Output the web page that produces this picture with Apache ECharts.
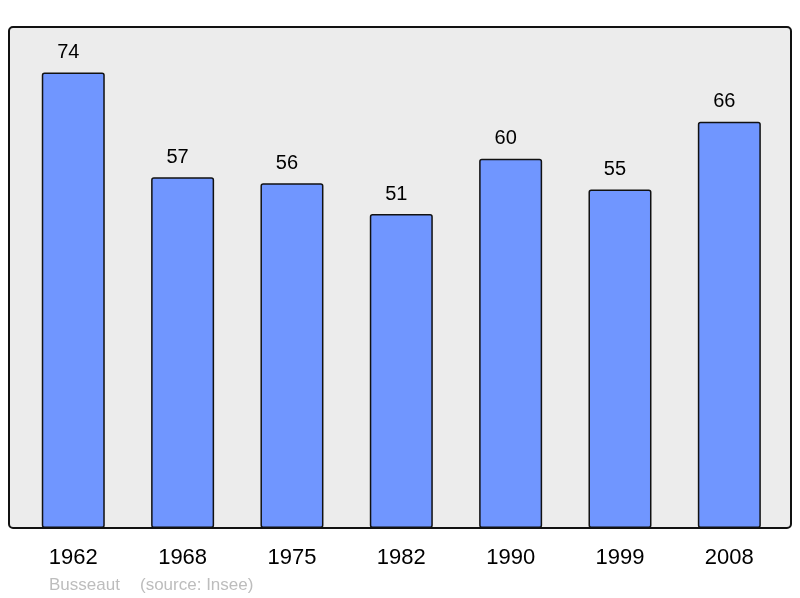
<!DOCTYPE html>
<html>
<head>
<meta charset="utf-8">
<script src="https://cdn.jsdelivr.net/npm/echarts@6/dist/echarts.min.js"></script>
<style>html,body{margin:0;padding:0;background:#fff}#c{width:800px;height:598px}</style>
</head>
<body>
<div id="c"></div>
<script>
var years = ['1962', '1968', '1975', '1982', '1990', '1999', '2008'];
var population = [74, 57, 56, 51, 60, 55, 66];
var placeName = 'Busseaut';
var sourceText = '(source: Insee)';

var chart = echarts.init(document.getElementById('c'), null, {renderer: 'canvas'});
chart.setOption({
  animation: false,
  backgroundColor: '#ffffff',
  textStyle: {fontFamily: 'Liberation Sans, Arial, sans-serif'},
  graphic: [
    {type: 'rect', z: -10, shape: {x: 9, y: 27, width: 782, height: 501, r: 4},
     style: {fill: '#ececec', stroke: '#111111', lineWidth: 2}},
    {type: 'text', x: 49, y: 585, style: {text: placeName, fill: '#bdbdbd', font: '17px Liberation Sans, Arial, sans-serif', verticalAlign: 'middle'}},
    {type: 'text', x: 140, y: 585, style: {text: sourceText, fill: '#bdbdbd', font: '17px Liberation Sans, Arial, sans-serif', verticalAlign: 'middle'}}
  ],
  grid: {left: 18.6, right: 16, top: 27, bottom: 70, containLabel: false},
  xAxis: {
    type: 'category',
    data: years,
    axisLine: {show: false},
    axisTick: {show: false},
    axisLabel: {color: '#000', fontSize: 22, margin: 19, fontFamily: 'Liberation Sans, Arial, sans-serif'}
  },
  yAxis: {
    type: 'value', min: 0, max: 81.4,
    show: false,
    splitLine: {show: false}
  },
  series: [{
    type: 'bar',
    data: population,
    barWidth: 63,
    itemStyle: {color: '#7096ff', borderColor: '#111111', borderWidth: 1.5, borderRadius: 2},
    label: {show: true, position: 'top', distance: 10, offset: [-5, 0], color: '#000', fontSize: 20, fontFamily: 'Liberation Sans, Arial, sans-serif'}
  }]
});
</script>
</body>
</html>
